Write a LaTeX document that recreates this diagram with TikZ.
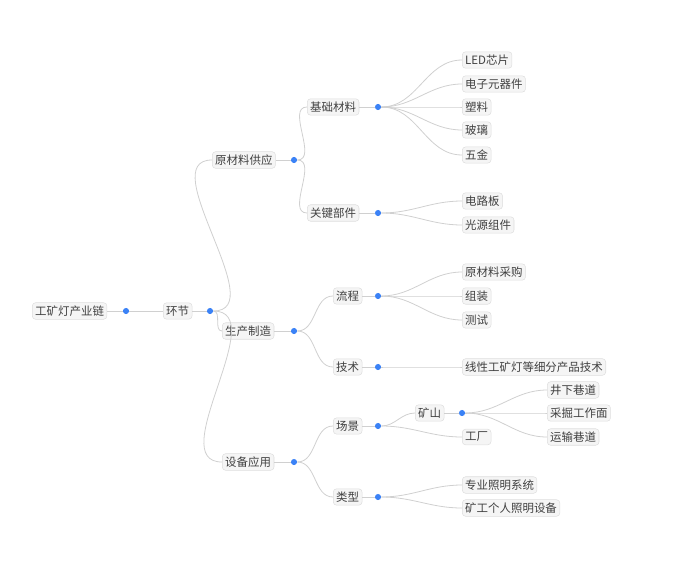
\documentclass[tikz,border=0pt]{standalone}
\usepackage{fontspec}
\setmainfont{Noto Sans CJK SC}
\usetikzlibrary{positioning}
\definecolor{dotblue}{HTML}{3B82F6}
\definecolor{linegray}{HTML}{D0D0D0}
\definecolor{boxgray}{HTML}{F5F5F5}
\definecolor{textgray}{HTML}{404040}

\begin{document}
\begin{tikzpicture}[x=0.75pt, y=-0.75pt,
    topic/.style={draw=linegray!70, fill=boxgray, rounded corners=2.5pt, text=textgray,
                  font=\fontsize{8.6}{10}\selectfont, inner sep=2.2pt, anchor=west},
    knot/.style={circle, fill=dotblue, inner sep=0pt, minimum size=4.6pt},
    link/.style={draw=linegray, line width=0.6pt}]
  \useasboundingbox (0,0) rectangle (680,567);
  % root and first level
  \node[topic] (root) at (32,311) {工矿灯产业链};
  \node[knot]  (rootk) at (126,311) {};
  \node[topic] (link1) at (163,311) {环节};
  \node[knot]  (link1k) at (210,311) {};
  % second level
  \node[topic] (supply) at (212,160) {原材料供应};
  \node[knot]  (supplyk) at (294,160) {};
  \node[topic] (make) at (222,331) {生产制造};
  \node[knot]  (makek) at (294,331) {};
  \node[topic] (apply) at (222,462) {设备应用};
  \node[knot]  (applyk) at (294,462) {};
  % third level
  \node[topic] (base) at (307,107) {基础材料};
  \node[knot]  (basek) at (378,107) {};
  \node[topic] (part) at (307,213) {关键部件};
  \node[knot]  (partk) at (378,213) {};
  \node[topic] (flow) at (333,296) {流程};
  \node[knot]  (flowk) at (378,296) {};
  \node[topic] (tech) at (333,367) {技术};
  \node[knot]  (techk) at (378,367) {};
  \node[topic] (scene) at (333,426) {场景};
  \node[knot]  (scenek) at (378,426) {};
  \node[topic] (kind) at (333,497) {类型};
  \node[knot]  (kindk) at (378,497) {};
  % leaves
  \node[topic] (led)   at (462,60)  {LED芯片};
  \node[topic] (elec)  at (462,84)  {电子元器件};
  \node[topic] (plast) at (462,107) {塑料};
  \node[topic] (glass) at (462,130) {玻璃};
  \node[topic] (metal) at (462,155) {五金};
  \node[topic] (pcb)   at (462,201) {电路板};
  \node[topic] (light) at (462,225) {光源组件};
  \node[topic] (buy)   at (462,272) {原材料采购};
  \node[topic] (build) at (462,296) {组装};
  \node[topic] (test)  at (462,320) {测试};
  \node[topic] (line)  at (462,367) {线性工矿灯等细分产品技术};
  \node[topic] (mine)  at (415,413) {矿山};
  \node[knot]  (minek) at (462,413) {};
  \node[topic] (plant) at (462,437) {工厂};
  \node[topic] (shaft) at (547,390) {井下巷道};
  \node[topic] (face)  at (547,413) {采掘工作面};
  \node[topic] (road)  at (547,437) {运输巷道};
  \node[topic] (pro)   at (462,485) {专业照明系统};
  \node[topic] (own)   at (462,508) {矿工个人照明设备};
  % connectors
  \draw[link] (root) -- (rootk);
  \draw[link] (rootk) -- (link1);
  \draw[link] (link1) -- (link1k);
  \foreach \p/\c in {link1k/supply, link1k/make, link1k/apply,
                     supplyk/base, supplyk/part, makek/flow, makek/tech,
                     applyk/scene, applyk/kind,
                     basek/led, basek/elec, basek/plast, basek/glass, basek/metal,
                     partk/pcb, partk/light, flowk/buy, flowk/build, flowk/test,
                     techk/line, scenek/mine, scenek/plant,
                     minek/shaft, minek/face, minek/road, kindk/pro, kindk/own}
    \draw[link] (\p) to[out=0, in=180] (\c.west);
  \foreach \n/\k in {supply/supplyk, make/makek, apply/applyk, base/basek, part/partk,
                     flow/flowk, tech/techk, scene/scenek, kind/kindk, mine/minek}
    \draw[link] (\n) -- (\k);
\end{tikzpicture}
\end{document}
